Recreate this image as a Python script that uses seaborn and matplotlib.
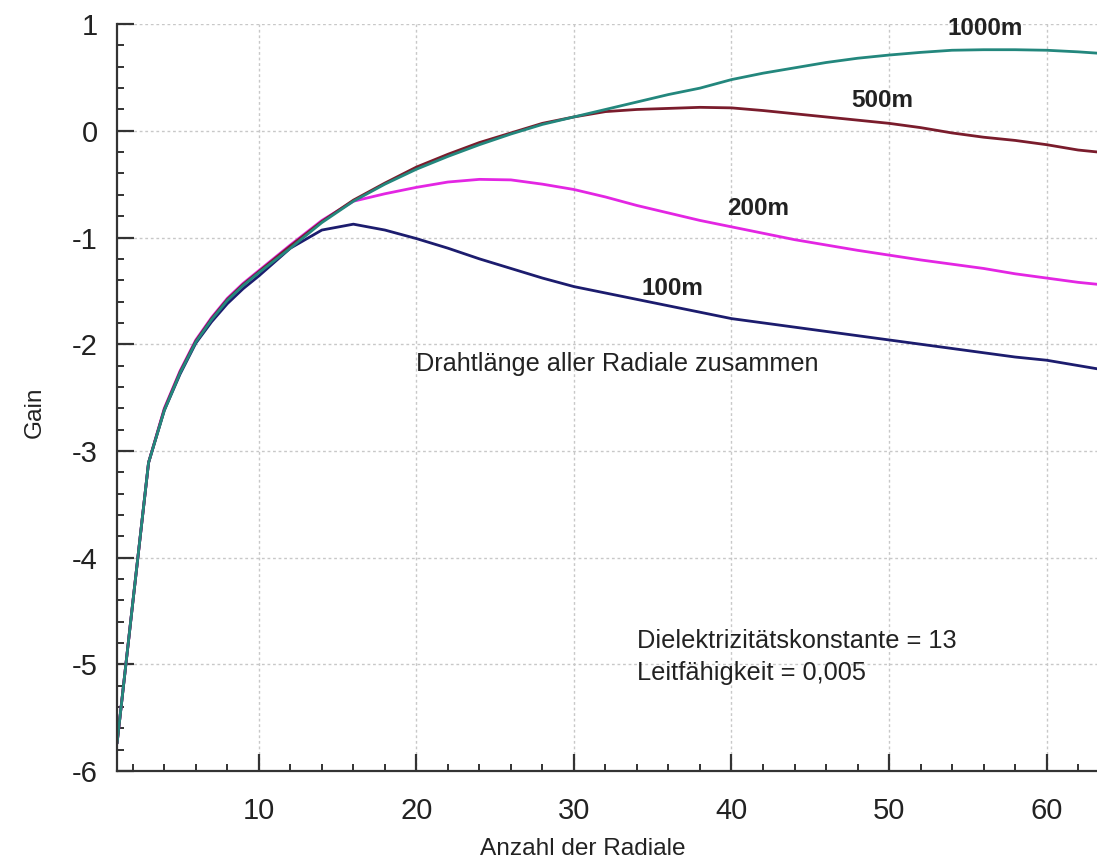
import numpy as np
import pandas as pd
import seaborn as sns
import matplotlib.pyplot as plt
from matplotlib.ticker import MultipleLocator

# Gain versus number of radials, for four total wire lengths
radials = [1, 2, 3, 4, 5, 6, 7, 8, 9, 10, 12, 14, 16, 18, 20, 22, 24, 26, 28,
           30, 32, 34, 36, 38, 40, 42, 44, 46, 48, 50, 52, 54, 56, 58, 60, 62, 64]

gain_1000m = [-5.74, -4.42, -3.11, -2.62, -2.27, -1.98, -1.77, -1.59, -1.45, -1.33,
              -1.10, -0.86, -0.66, -0.50, -0.36, -0.24, -0.13, -0.03, 0.06,
              0.13, 0.20, 0.27, 0.34, 0.40, 0.48, 0.54, 0.59, 0.64, 0.68, 0.71,
              0.735, 0.755, 0.76, 0.76, 0.755, 0.74, 0.72]

gain_500m = [-5.74, -4.42, -3.11, -2.61, -2.26, -1.97, -1.76, -1.58, -1.44, -1.32,
             -1.08, -0.85, -0.65, -0.49, -0.34, -0.22, -0.11, -0.02, 0.07,
             0.13, 0.18, 0.20, 0.21, 0.22, 0.215, 0.19, 0.16, 0.13, 0.10, 0.07,
             0.03, -0.02, -0.06, -0.09, -0.13, -0.18, -0.21]

gain_200m = [-5.74, -4.42, -3.11, -2.60, -2.25, -1.96, -1.75, -1.57, -1.43, -1.31,
             -1.07, -0.84, -0.66, -0.59, -0.53, -0.48, -0.455, -0.46, -0.50,
             -0.55, -0.62, -0.70, -0.77, -0.84, -0.90, -0.96, -1.02, -1.07, -1.12, -1.165,
             -1.21, -1.25, -1.29, -1.34, -1.38, -1.42, -1.45]

gain_100m = [-5.74, -4.42, -3.11, -2.62, -2.28, -1.99, -1.79, -1.62, -1.48, -1.36,
             -1.10, -0.93, -0.875, -0.93, -1.01, -1.10, -1.20, -1.29, -1.38,
             -1.46, -1.52, -1.58, -1.64, -1.70, -1.76, -1.80, -1.84, -1.88, -1.92, -1.96,
             -2.00, -2.04, -2.08, -2.12, -2.15, -2.20, -2.25]

lengths = ["1000m", "500m", "200m", "100m"]
colors = ["#23877d", "#7a1c2c", "#e326e3", "#1c1c6e"]

series = {"1000m": gain_1000m, "500m": gain_500m, "200m": gain_200m, "100m": gain_100m}
df = pd.concat(
    [pd.DataFrame({"Radiale": radials, "Gain": vals, "Länge": name})
     for name, vals in series.items()],
    ignore_index=True,
)

sns.set_theme(style="white")
plt.rcParams["font.family"] = ["Liberation Sans", "DejaVu Sans"]
plt.rcParams["axes.unicode_minus"] = False

fig = plt.figure(figsize=(10.97, 8.61), dpi=100)
ax = fig.add_axes([0.1067, 0.1045, 0.8933, 0.8675])

sns.lineplot(data=df, x="Radiale", y="Gain", hue="Länge", hue_order=lengths[::-1],
             palette=dict(zip(lengths, colors)), linewidth=2.0, legend=False, ax=ax,
             sort=True)

ax.set_xlim(1, 63.2)
ax.set_ylim(-6, 1)
ax.xaxis.set_major_locator(MultipleLocator(10))
ax.xaxis.set_minor_locator(MultipleLocator(2))
ax.yaxis.set_major_locator(MultipleLocator(1))
ax.yaxis.set_minor_locator(MultipleLocator(0.2))
ax.set_xticks([10, 20, 30, 40, 50, 60])

ax.grid(True, which="major", color="#c8c8c8", linestyle=(0, (2, 2)), linewidth=1.0)
ax.set_axisbelow(True)

for side in ("top", "right"):
    ax.spines[side].set_visible(False)
for side in ("left", "bottom"):
    ax.spines[side].set_color("#333333")
    ax.spines[side].set_linewidth(1.6)

ax.tick_params(axis="both", which="both", bottom=True, left=True, top=False, right=False)
ax.tick_params(axis="both", which="major", direction="in", length=12, width=1.6,
               color="#333333", labelsize=21, labelcolor="#222222")
ax.tick_params(axis="both", which="minor", direction="in", length=5, width=1.4,
               color="#333333")
ax.tick_params(axis="x", which="major", pad=19)
ax.tick_params(axis="y", which="major", pad=14)

ax.set_xlabel("Anzahl der Radiale", fontsize=17.6, color="#222222")
ax.set_ylabel("Gain", fontsize=17.6, color="#222222")
ax.xaxis.set_label_coords(0.4755, -0.09)
ax.yaxis.set_label_coords(-0.073, 0.48)

label_pos = {"1000m": (56.1, 0.96), "500m": (49.6, 0.28),
             "200m": (41.7, -0.73), "100m": (36.25, -1.48)}
for name in lengths:
    x, y = label_pos[name]
    ax.text(x, y, name, fontsize=17.5, fontweight="bold", color="#222222",
            ha="center", va="center")

ax.text(19.96, -2.19, "Drahtlänge aller Radiale zusammen", fontsize=18.2,
        color="#222222", ha="left", va="center")
ax.text(34.0, -4.78, "Dielektrizitätskonstante = 13", fontsize=18.3,
        color="#222222", ha="left", va="center")
ax.text(34.0, -5.08, "Leitfähigkeit = 0,005", fontsize=18.3,
        color="#222222", ha="left", va="center")

fig.savefig("out.png", dpi=100)
